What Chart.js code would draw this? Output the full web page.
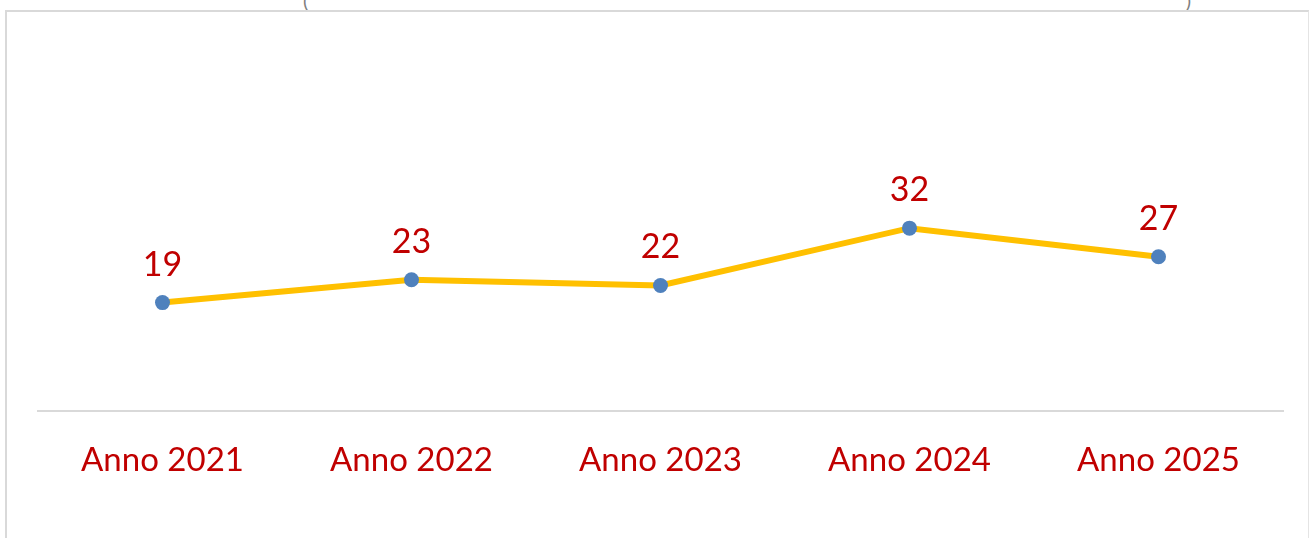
<!DOCTYPE html>
<html>
<head>
<meta charset="utf-8">
<script src="https://cdn.jsdelivr.net/npm/chart.js@4/dist/chart.umd.min.js"></script>
<style>
  html, body { margin: 0; padding: 0; background: #ffffff; }
  #wrap { position: relative; width: 1309px; height: 538px; overflow: hidden; }
  #frame { position: absolute; left: 5px; top: 10px; width: 1301px; height: 540px;
           border-left: 2px solid #d9d9d9; border-top: 2px solid #d9d9d9; border-right: 1px solid #e4e4e4; }
  #title { position: absolute; top: -12px; left: 303px; width: 888px; font-family: Lato, sans-serif;
           font-size: 20px; color: #7f7f7f; display: flex; justify-content: space-between; }
  canvas { position: absolute; left: 0; top: 0; }
</style>
</head>
<body>
<div id="wrap">
  <div id="title"><span>(</span><span>)</span></div>
  <div id="frame"></div>
  <canvas id="c" width="1309" height="538"></canvas>
</div>
<script>
const categories = ["Anno 2021", "Anno 2022", "Anno 2023", "Anno 2024", "Anno 2025"];
const values = [19, 23, 22, 32, 27];

const labelColor = "#C00000";

const dataLabels = {
  id: "dataLabels",
  afterDatasetsDraw(chart) {
    const ctx = chart.ctx;
    const meta = chart.getDatasetMeta(0);
    ctx.save();
    ctx.font = "34px Lato";
    ctx.fillStyle = labelColor;
    ctx.textAlign = "center";
    ctx.textBaseline = "middle";
    meta.data.forEach((pt, i) => {
      ctx.fillText(String(values[i]), pt.x, pt.y - 38);
    });
    ctx.restore();
  }
};

new Chart(document.getElementById("c"), {
  type: "line",
  data: {
    labels: categories,
    datasets: [{
      data: values,
      borderColor: "#FFC000",
      borderWidth: 6,
      pointRadius: 7.5,
      pointHoverRadius: 7.5,
      pointBackgroundColor: "#4F81BD",
      pointBorderColor: "#4F81BD",
      pointBorderWidth: 0,
      tension: 0,
      fill: false
    }]
  },
  options: {
    responsive: false,
    animation: false,
    events: [],
    layout: { padding: { top: 211, left: 38, right: 26, bottom: 29 } },
    plugins: { legend: { display: false }, tooltip: { enabled: false } },
    scales: {
      x: {
        offset: true,
        grid: { display: false, drawTicks: false },
        border: { display: true, color: "#d9d9d9", width: 2 },
        ticks: { color: labelColor, font: { family: "Lato", size: 33 }, padding: 29, maxRotation: 0 }
      },
      y: {
        display: false,
        min: 0,
        max: 35
      }
    }
  },
  plugins: [dataLabels]
});
</script>
</body>
</html>
